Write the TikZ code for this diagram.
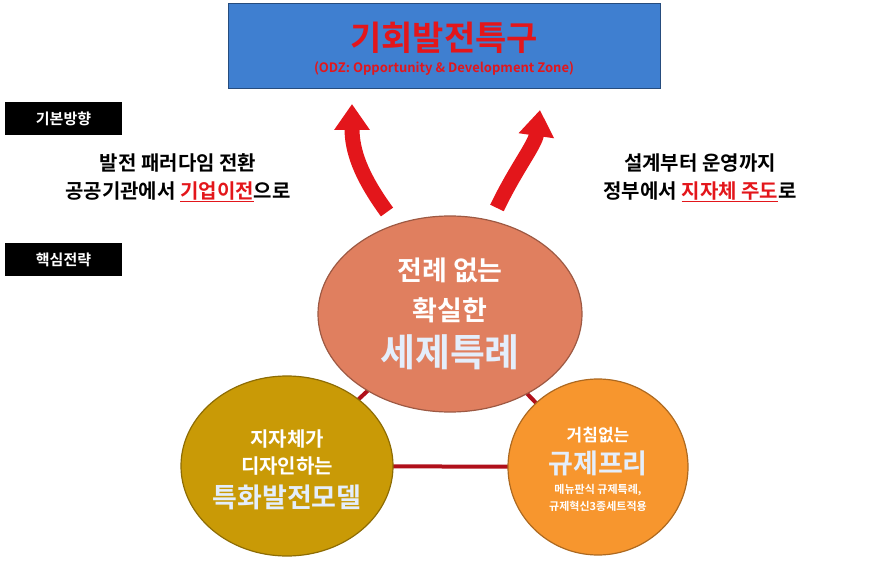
\documentclass[tikz,border=0pt]{standalone}
\usepackage{fontspec}
\setmainfont{Noto Sans CJK KR}[BoldFont={* Bold}]
\usetikzlibrary{arrows.meta}
\definecolor{boxblue}{HTML}{3F7FD0}
\definecolor{tred}{HTML}{E3161B}
\definecolor{cen}{HTML}{E07F5F}
\definecolor{lft}{HTML}{C99A06}
\definecolor{rgt}{HTML}{F7962E}
\definecolor{lnk}{HTML}{B0101A}
\definecolor{pale}{HTML}{E4EEFB}
\tikzset{
  blk/.style={fill=black,text=white,font=\bfseries\fontsize{15}{18}\selectfont,minimum width=117pt,minimum height=33pt,inner sep=0pt},
  ell/.style={ellipse,draw=#1!70!black,line width=1.2pt,fill=#1},
  wt/.style={text=white,font=\bfseries\fontsize{#1}{#1}\selectfont,inner sep=0pt},
  bt/.style={text=black,font=\bfseries\fontsize{20}{24}\selectfont,inner sep=0pt},
  arr/.style={line width=15pt,draw=tred,-{Triangle[width=34pt,length=26pt]}},
  lnkline/.style={draw=lnk,line width=4pt}
}
\usetikzlibrary{shapes.geometric}
\begin{document}
\begin{tikzpicture}[x=1pt,y=-1pt]
\useasboundingbox (0,0) rectangle (892,564);
\node[draw=boxblue!60!black,fill=boxblue,minimum width=432pt,minimum height=85pt,inner sep=0pt] (top) at (444,45.5) {};
\node[text=tred,font=\bfseries\fontsize{34}{36}\selectfont,inner sep=0pt] (tt) at (444,38) {기회발전특구};
\node[text=tred,font=\bfseries\fontsize{13}{15}\selectfont,inner sep=0pt] (ts) at (444,69) {(ODZ: Opportunity \& Development Zone)};
\node[blk] (b1) at (63.5,118.5) {기본방향};
\node[blk] (b2) at (63.5,259.5) {핵심전략};
\node[bt] (l1) at (178,163) {발전 패러다임 전환};
\node[bt] (l2) at (178,192) {공공기관에서 \textcolor{tred}{\underline{기업이전}}으로};
\node[bt] (r1) at (700,163) {설계부터 운영까지};
\node[bt] (r2) at (700,192) {정부에서 \textcolor{tred}{\underline{지자체 주도}}로};
\coordinate (a1s) at (387,212);
\coordinate (a1e) at (352,104);
\coordinate (a2s) at (497,208);
\coordinate (a2e) at (540,110);
\draw[arr] (a1s) .. controls (360,175) and (352,150) .. (a1e);
\draw[arr] (a2s) .. controls (515,170) and (535,145) .. (a2e);
\coordinate (cc) at (450,314);
\coordinate (lc) at (287,466);
\coordinate (rc) at (598,467);
\draw[lnkline] (cc) -- (lc) -- (rc) -- cycle;
\node[ell=cen,minimum width=264pt,minimum height=196pt] (c) at (cc) {};
\node[ell=lft,minimum width=212pt,minimum height=180pt] (l) at (lc) {};
\node[ell=rgt,minimum width=180pt,minimum height=176pt] (r) at (rc) {};
\node[wt=27] (c1) at (450,270) {전례 없는};
\node[wt=27] (c2) at (450,310) {확실한};
\node[text=pale,font=\bfseries\fontsize{38}{40}\selectfont,inner sep=0pt] (c3) at (450,352) {세제특례};
\node[wt=20] (l1t) at (287,439) {지자체가};
\node[wt=20] (l2t) at (287,466) {디자인하는};
\node[text=pale,font=\bfseries\fontsize{27}{30}\selectfont,inner sep=0pt] (l3t) at (287,497) {특화발전모델};
\node[wt=17] (r1t) at (598,435) {거침없는};
\node[text=pale,font=\bfseries\fontsize{27}{30}\selectfont,inner sep=0pt] (r2t) at (598,463) {규제프리};
\node[wt=11] (r3t) at (598,490) {메뉴판식 규제특례,};
\node[wt=11] (r4t) at (598,506) {규제혁신3종세트적용};
\end{tikzpicture}
\end{document}
